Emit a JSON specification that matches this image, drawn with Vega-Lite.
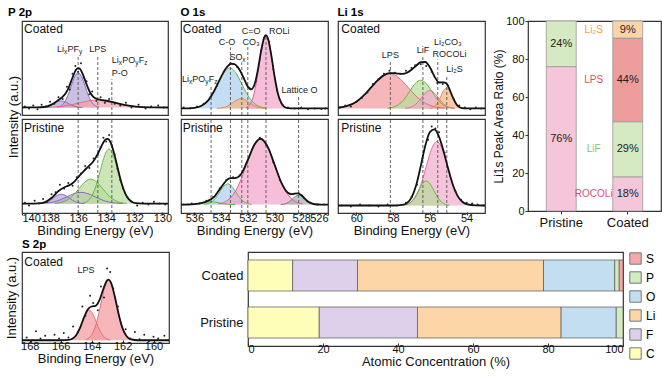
{
"$schema":"https://vega.github.io/schema/vega-lite/v6.json",
"padding":{"left":4,"top":0,"right":0,"bottom":0},
"config":{
 "font":"Liberation Sans",
 "view":{"stroke":"#333","strokeWidth":1.2},
 "axis":{"labelFontSize":11,"titleFontSize":13,"titleFontWeight":"normal","labelColor":"#111","titleColor":"#111","domainColor":"#333","tickColor":"#333","grid":false,"labelOverlap":false},
 "title":{"fontSize":11.5,"fontWeight":"bold","anchor":"start","color":"#000","offset":2},
 "header":{"titleFontSize":13,"titleFontWeight":"normal","titleColor":"#111","titlePadding":-10,"labelPadding":0}
},
"datasets":{
"p2p":[
{"s":"Coated","k":"c","sp":"LixPFy","pk":"A","b":0.08,"x":135.7,"y":0.0808},{"s":"Coated","k":"c","sp":"LixPFy","pk":"A","b":0.08,"x":135.95,"y":0.0831},{"s":"Coated","k":"c","sp":"LixPFy","pk":"A","b":0.08,"x":136.2,"y":0.0895},{"s":"Coated","k":"c","sp":"LixPFy","pk":"A","b":0.08,"x":136.45,"y":0.1027},{"s":"Coated","k":"c","sp":"LixPFy","pk":"A","b":0.08,"x":136.7,"y":0.1225},{"s":"Coated","k":"c","sp":"LixPFy","pk":"A","b":0.08,"x":136.95,"y":0.1418},{"s":"Coated","k":"c","sp":"LixPFy","pk":"A","b":0.08,"x":137.2,"y":0.15},{"s":"Coated","k":"c","sp":"LixPFy","pk":"A","b":0.08,"x":137.45,"y":0.1418},{"s":"Coated","k":"c","sp":"LixPFy","pk":"A","b":0.08,"x":137.7,"y":0.1225},{"s":"Coated","k":"c","sp":"LixPFy","pk":"A","b":0.08,"x":137.95,"y":0.1027},{"s":"Coated","k":"c","sp":"LixPFy","pk":"A","b":0.08,"x":138.2,"y":0.0895},{"s":"Coated","k":"c","sp":"LixPFy","pk":"A","b":0.08,"x":138.45,"y":0.0831},{"s":"Coated","k":"c","sp":"LixPFy","pk":"A","b":0.08,"x":138.7,"y":0.0808},
{"s":"Coated","k":"c","sp":"LixPFy","pk":"B","b":0.08,"x":134.5,"y":0.084},{"s":"Coated","k":"c","sp":"LixPFy","pk":"B","b":0.08,"x":134.75,"y":0.096},{"s":"Coated","k":"c","sp":"LixPFy","pk":"B","b":0.08,"x":135,"y":0.13},{"s":"Coated","k":"c","sp":"LixPFy","pk":"B","b":0.08,"x":135.25,"y":0.2},{"s":"Coated","k":"c","sp":"LixPFy","pk":"B","b":0.08,"x":135.5,"y":0.304},{"s":"Coated","k":"c","sp":"LixPFy","pk":"B","b":0.08,"x":135.75,"y":0.407},{"s":"Coated","k":"c","sp":"LixPFy","pk":"B","b":0.08,"x":136,"y":0.45},{"s":"Coated","k":"c","sp":"LixPFy","pk":"B","b":0.08,"x":136.25,"y":0.407},{"s":"Coated","k":"c","sp":"LixPFy","pk":"B","b":0.08,"x":136.5,"y":0.304},{"s":"Coated","k":"c","sp":"LixPFy","pk":"B","b":0.08,"x":136.75,"y":0.2},{"s":"Coated","k":"c","sp":"LixPFy","pk":"B","b":0.08,"x":137,"y":0.13},{"s":"Coated","k":"c","sp":"LixPFy","pk":"B","b":0.08,"x":137.25,"y":0.096},{"s":"Coated","k":"c","sp":"LixPFy","pk":"B","b":0.08,"x":137.5,"y":0.084},
{"s":"Coated","k":"c","sp":"LPS","pk":"C","b":0.08,"x":130.7,"y":0.081},{"s":"Coated","k":"c","sp":"LPS","pk":"C","b":0.08,"x":131.35,"y":0.0835},{"s":"Coated","k":"c","sp":"LPS","pk":"C","b":0.08,"x":132,"y":0.0908},{"s":"Coated","k":"c","sp":"LPS","pk":"C","b":0.08,"x":132.65,"y":0.106},{"s":"Coated","k":"c","sp":"LPS","pk":"C","b":0.08,"x":133.3,"y":0.1285},{"s":"Coated","k":"c","sp":"LPS","pk":"C","b":0.08,"x":133.95,"y":0.1506},{"s":"Coated","k":"c","sp":"LPS","pk":"C","b":0.08,"x":134.6,"y":0.16},{"s":"Coated","k":"c","sp":"LPS","pk":"C","b":0.08,"x":135.25,"y":0.1506},{"s":"Coated","k":"c","sp":"LPS","pk":"C","b":0.08,"x":135.9,"y":0.1285},{"s":"Coated","k":"c","sp":"LPS","pk":"C","b":0.08,"x":136.55,"y":0.106},{"s":"Coated","k":"c","sp":"LPS","pk":"C","b":0.08,"x":137.2,"y":0.0908},{"s":"Coated","k":"c","sp":"LPS","pk":"C","b":0.08,"x":137.85,"y":0.0835},{"s":"Coated","k":"c","sp":"LPS","pk":"C","b":0.08,"x":138.5,"y":0.081},
{"s":"Pristine","k":"c","sp":"LixPFy","pk":"D","b":0.1,"x":135.55,"y":0.1011},{"s":"Pristine","k":"c","sp":"LixPFy","pk":"D","b":0.1,"x":135.825,"y":0.1044},{"s":"Pristine","k":"c","sp":"LixPFy","pk":"D","b":0.1,"x":136.1,"y":0.1135},{"s":"Pristine","k":"c","sp":"LixPFy","pk":"D","b":0.1,"x":136.375,"y":0.1325},{"s":"Pristine","k":"c","sp":"LixPFy","pk":"D","b":0.1,"x":136.65,"y":0.1607},{"s":"Pristine","k":"c","sp":"LixPFy","pk":"D","b":0.1,"x":136.925,"y":0.1883},{"s":"Pristine","k":"c","sp":"LixPFy","pk":"D","b":0.1,"x":137.2,"y":0.2},{"s":"Pristine","k":"c","sp":"LixPFy","pk":"D","b":0.1,"x":137.475,"y":0.1883},{"s":"Pristine","k":"c","sp":"LixPFy","pk":"D","b":0.1,"x":137.75,"y":0.1607},{"s":"Pristine","k":"c","sp":"LixPFy","pk":"D","b":0.1,"x":138.025,"y":0.1325},{"s":"Pristine","k":"c","sp":"LixPFy","pk":"D","b":0.1,"x":138.3,"y":0.1135},{"s":"Pristine","k":"c","sp":"LixPFy","pk":"D","b":0.1,"x":138.575,"y":0.1044},{"s":"Pristine","k":"c","sp":"LixPFy","pk":"D","b":0.1,"x":138.85,"y":0.1011},
{"s":"Pristine","k":"c","sp":"LixPFy","pk":"E","b":0.1,"x":132.8,"y":0.1013},{"s":"Pristine","k":"c","sp":"LixPFy","pk":"E","b":0.1,"x":133.3,"y":0.1053},{"s":"Pristine","k":"c","sp":"LixPFy","pk":"E","b":0.1,"x":133.8,"y":0.1162},{"s":"Pristine","k":"c","sp":"LixPFy","pk":"E","b":0.1,"x":134.3,"y":0.139},{"s":"Pristine","k":"c","sp":"LixPFy","pk":"E","b":0.1,"x":134.8,"y":0.1728},{"s":"Pristine","k":"c","sp":"LixPFy","pk":"E","b":0.1,"x":135.3,"y":0.2059},{"s":"Pristine","k":"c","sp":"LixPFy","pk":"E","b":0.1,"x":135.8,"y":0.22},{"s":"Pristine","k":"c","sp":"LixPFy","pk":"E","b":0.1,"x":136.3,"y":0.2059},{"s":"Pristine","k":"c","sp":"LixPFy","pk":"E","b":0.1,"x":136.8,"y":0.1728},{"s":"Pristine","k":"c","sp":"LixPFy","pk":"E","b":0.1,"x":137.3,"y":0.139},{"s":"Pristine","k":"c","sp":"LixPFy","pk":"E","b":0.1,"x":137.8,"y":0.1162},{"s":"Pristine","k":"c","sp":"LixPFy","pk":"E","b":0.1,"x":138.3,"y":0.1053},{"s":"Pristine","k":"c","sp":"LixPFy","pk":"E","b":0.1,"x":138.8,"y":0.1013},
{"s":"Pristine","k":"c","sp":"LixPOyFz","pk":"F","b":0.1,"x":132.55,"y":0.1029},{"s":"Pristine","k":"c","sp":"LixPOyFz","pk":"F","b":0.1,"x":132.975,"y":0.1114},{"s":"Pristine","k":"c","sp":"LixPOyFz","pk":"F","b":0.1,"x":133.4,"y":0.1352},{"s":"Pristine","k":"c","sp":"LixPOyFz","pk":"F","b":0.1,"x":133.825,"y":0.1844},{"s":"Pristine","k":"c","sp":"LixPOyFz","pk":"F","b":0.1,"x":134.25,"y":0.2577},{"s":"Pristine","k":"c","sp":"LixPOyFz","pk":"F","b":0.1,"x":134.675,"y":0.3295},{"s":"Pristine","k":"c","sp":"LixPOyFz","pk":"F","b":0.1,"x":135.1,"y":0.36},{"s":"Pristine","k":"c","sp":"LixPOyFz","pk":"F","b":0.1,"x":135.525,"y":0.3295},{"s":"Pristine","k":"c","sp":"LixPOyFz","pk":"F","b":0.1,"x":135.95,"y":0.2577},{"s":"Pristine","k":"c","sp":"LixPOyFz","pk":"F","b":0.1,"x":136.375,"y":0.1844},{"s":"Pristine","k":"c","sp":"LixPOyFz","pk":"F","b":0.1,"x":136.8,"y":0.1352},{"s":"Pristine","k":"c","sp":"LixPOyFz","pk":"F","b":0.1,"x":137.225,"y":0.1114},{"s":"Pristine","k":"c","sp":"LixPOyFz","pk":"F","b":0.1,"x":137.65,"y":0.1029},
{"s":"Pristine","k":"c","sp":"LixPOyFz","pk":"G","b":0.1,"x":131.94,"y":0.1064},{"s":"Pristine","k":"c","sp":"LixPOyFz","pk":"G","b":0.1,"x":132.25,"y":0.1255},{"s":"Pristine","k":"c","sp":"LixPOyFz","pk":"G","b":0.1,"x":132.56,"y":0.1785},{"s":"Pristine","k":"c","sp":"LixPOyFz","pk":"G","b":0.1,"x":132.87,"y":0.2883},{"s":"Pristine","k":"c","sp":"LixPOyFz","pk":"G","b":0.1,"x":133.18,"y":0.4518},{"s":"Pristine","k":"c","sp":"LixPOyFz","pk":"G","b":0.1,"x":133.49,"y":0.6119},{"s":"Pristine","k":"c","sp":"LixPOyFz","pk":"G","b":0.1,"x":133.8,"y":0.68},{"s":"Pristine","k":"c","sp":"LixPOyFz","pk":"G","b":0.1,"x":134.11,"y":0.6119},{"s":"Pristine","k":"c","sp":"LixPOyFz","pk":"G","b":0.1,"x":134.42,"y":0.4518},{"s":"Pristine","k":"c","sp":"LixPOyFz","pk":"G","b":0.1,"x":134.73,"y":0.2883},{"s":"Pristine","k":"c","sp":"LixPOyFz","pk":"G","b":0.1,"x":135.04,"y":0.1785},{"s":"Pristine","k":"c","sp":"LixPOyFz","pk":"G","b":0.1,"x":135.35,"y":0.1255},{"s":"Pristine","k":"c","sp":"LixPOyFz","pk":"G","b":0.1,"x":135.66,"y":0.1064},
{"s":"Coated","k":"e","x":140,"y":0.08},{"s":"Coated","k":"e","x":139.5,"y":0.0802},{"s":"Coated","k":"e","x":138.9,"y":0.0805},{"s":"Coated","k":"e","x":138.4,"y":0.085},{"s":"Coated","k":"e","x":137.9,"y":0.11},{"s":"Coated","k":"e","x":137.65,"y":0.133},{"s":"Coated","k":"e","x":137.4,"y":0.16},{"s":"Coated","k":"e","x":137.15,"y":0.188},{"s":"Coated","k":"e","x":136.9,"y":0.228},{"s":"Coated","k":"e","x":136.65,"y":0.3},{"s":"Coated","k":"e","x":136.4,"y":0.399},{"s":"Coated","k":"e","x":136.15,"y":0.481},{"s":"Coated","k":"e","x":136,"y":0.499},{"s":"Coated","k":"e","x":135.9,"y":0.494},{"s":"Coated","k":"e","x":135.65,"y":0.428},{"s":"Coated","k":"e","x":135.4,"y":0.326},{"s":"Coated","k":"e","x":135.15,"y":0.24},{"s":"Coated","k":"e","x":134.9,"y":0.191},{"s":"Coated","k":"e","x":134.65,"y":0.17},{"s":"Coated","k":"e","x":134.4,"y":0.161},{"s":"Coated","k":"e","x":133.9,"y":0.149},{"s":"Coated","k":"e","x":133.4,"y":0.132},{"s":"Coated","k":"e","x":132.9,"y":0.114},{"s":"Coated","k":"e","x":132.4,"y":0.099},{"s":"Coated","k":"e","x":131.9,"y":0.089},{"s":"Coated","k":"e","x":130.9,"y":0.0814},{"s":"Coated","k":"e","x":129.6,"y":0.08},
{"s":"Pristine","k":"e","x":140,"y":0.1},{"s":"Pristine","k":"e","x":139.4,"y":0.1},{"s":"Pristine","k":"e","x":138.9,"y":0.102},{"s":"Pristine","k":"e","x":138.4,"y":0.1135},{"s":"Pristine","k":"e","x":137.9,"y":0.159},{"s":"Pristine","k":"e","x":137.4,"y":0.234},{"s":"Pristine","k":"e","x":136.9,"y":0.279},{"s":"Pristine","k":"e","x":136.65,"y":0.294},{"s":"Pristine","k":"e","x":136.4,"y":0.316},{"s":"Pristine","k":"e","x":135.9,"y":0.398},{"s":"Pristine","k":"e","x":135.65,"y":0.438},{"s":"Pristine","k":"e","x":135.4,"y":0.476},{"s":"Pristine","k":"e","x":135.15,"y":0.511},{"s":"Pristine","k":"e","x":134.9,"y":0.553},{"s":"Pristine","k":"e","x":134.65,"y":0.615},{"s":"Pristine","k":"e","x":134.4,"y":0.693},{"s":"Pristine","k":"e","x":134.15,"y":0.764},{"s":"Pristine","k":"e","x":134,"y":0.787},{"s":"Pristine","k":"e","x":133.9,"y":0.788},{"s":"Pristine","k":"e","x":133.65,"y":0.736},{"s":"Pristine","k":"e","x":133.4,"y":0.613},{"s":"Pristine","k":"e","x":133.15,"y":0.457},{"s":"Pristine","k":"e","x":132.9,"y":0.313},{"s":"Pristine","k":"e","x":132.65,"y":0.208},{"s":"Pristine","k":"e","x":132.4,"y":0.147},{"s":"Pristine","k":"e","x":132.15,"y":0.117},{"s":"Pristine","k":"e","x":131.9,"y":0.105},{"s":"Pristine","k":"e","x":131.4,"y":0.1},{"s":"Pristine","k":"e","x":129.6,"y":0.1},
{"s":"Coated","k":"p","x":139.8,"y":0.09},{"s":"Coated","k":"p","x":139.5,"y":0.07},{"s":"Coated","k":"p","x":139.2,"y":0.1},{"s":"Coated","k":"p","x":138.9,"y":0.06},{"s":"Coated","k":"p","x":138.6,"y":0.11},{"s":"Coated","k":"p","x":138.3,"y":0.09},{"s":"Coated","k":"p","x":138,"y":0.14},{"s":"Coated","k":"p","x":137.7,"y":0.12},{"s":"Coated","k":"p","x":137.4,"y":0.19},{"s":"Coated","k":"p","x":137.1,"y":0.17},{"s":"Coated","k":"p","x":136.8,"y":0.3},{"s":"Coated","k":"p","x":136.6,"y":0.27},{"s":"Coated","k":"p","x":136.4,"y":0.44},{"s":"Coated","k":"p","x":136.2,"y":0.52},{"s":"Coated","k":"p","x":136,"y":0.46},{"s":"Coated","k":"p","x":135.8,"y":0.55},{"s":"Coated","k":"p","x":135.6,"y":0.4},{"s":"Coated","k":"p","x":135.4,"y":0.36},{"s":"Coated","k":"p","x":135.2,"y":0.22},{"s":"Coated","k":"p","x":135,"y":0.25},{"s":"Coated","k":"p","x":134.7,"y":0.15},{"s":"Coated","k":"p","x":134.4,"y":0.19},{"s":"Coated","k":"p","x":134.1,"y":0.13},{"s":"Coated","k":"p","x":133.8,"y":0.17},{"s":"Coated","k":"p","x":133.4,"y":0.12},{"s":"Coated","k":"p","x":133,"y":0.1},{"s":"Coated","k":"p","x":132.6,"y":0.13},{"s":"Coated","k":"p","x":132.2,"y":0.08},{"s":"Coated","k":"p","x":131.7,"y":0.11},{"s":"Coated","k":"p","x":131.2,"y":0.07},{"s":"Coated","k":"p","x":130.8,"y":0.09},{"s":"Coated","k":"p","x":130.3,"y":0.1},{"s":"Coated","k":"p","x":129.9,"y":0.08},
{"s":"Pristine","k":"p","x":139.8,"y":0.11},{"s":"Pristine","k":"p","x":139.5,"y":0.08},{"s":"Pristine","k":"p","x":139.1,"y":0.13},{"s":"Pristine","k":"p","x":138.8,"y":0.1},{"s":"Pristine","k":"p","x":138.5,"y":0.15},{"s":"Pristine","k":"p","x":138.2,"y":0.12},{"s":"Pristine","k":"p","x":137.9,"y":0.2},{"s":"Pristine","k":"p","x":137.6,"y":0.22},{"s":"Pristine","k":"p","x":137.3,"y":0.3},{"s":"Pristine","k":"p","x":137,"y":0.26},{"s":"Pristine","k":"p","x":136.7,"y":0.32},{"s":"Pristine","k":"p","x":136.4,"y":0.29},{"s":"Pristine","k":"p","x":136.1,"y":0.38},{"s":"Pristine","k":"p","x":135.8,"y":0.42},{"s":"Pristine","k":"p","x":135.5,"y":0.5},{"s":"Pristine","k":"p","x":135.2,"y":0.48},{"s":"Pristine","k":"p","x":134.9,"y":0.58},{"s":"Pristine","k":"p","x":134.6,"y":0.62},{"s":"Pristine","k":"p","x":134.4,"y":0.7},{"s":"Pristine","k":"p","x":134.2,"y":0.8},{"s":"Pristine","k":"p","x":134,"y":0.76},{"s":"Pristine","k":"p","x":133.8,"y":0.83},{"s":"Pristine","k":"p","x":133.6,"y":0.72},{"s":"Pristine","k":"p","x":133.4,"y":0.62},{"s":"Pristine","k":"p","x":133.2,"y":0.47},{"s":"Pristine","k":"p","x":133,"y":0.35},{"s":"Pristine","k":"p","x":132.8,"y":0.26},{"s":"Pristine","k":"p","x":132.5,"y":0.17},{"s":"Pristine","k":"p","x":132.2,"y":0.12},{"s":"Pristine","k":"p","x":131.8,"y":0.08},{"s":"Pristine","k":"p","x":131.4,"y":0.11},{"s":"Pristine","k":"p","x":131,"y":0.09},{"s":"Pristine","k":"p","x":130.6,"y":0.12},{"s":"Pristine","k":"p","x":130.2,"y":0.1},{"s":"Pristine","k":"p","x":129.8,"y":0.09},
{"s":"Coated","k":"r","x":136,"y":0,"y2":0.63},{"s":"Coated","k":"r","x":134.6,"y":0,"y2":0.63},{"s":"Coated","k":"r","x":133.6,"y":0,"y2":0.38},
{"s":"Pristine","k":"r","x":136,"y":0,"y2":1},{"s":"Pristine","k":"r","x":134.6,"y":0,"y2":1},{"s":"Pristine","k":"r","x":133.6,"y":0,"y2":1},
{"s":"Coated","k":"l","t":"LPS","x":134.6,"y":0.7},
{"s":"Coated","k":"g","t":"Li","x":137.51,"y":0.7},{"s":"Coated","k":"g","t":"PF","x":136.76,"y":0.7},{"s":"Coated","k":"g","t":"Li","x":133.61,"y":0.58},{"s":"Coated","k":"g","t":"PO","x":132.86,"y":0.58},{"s":"Coated","k":"g","t":"F","x":131.69,"y":0.58},{"s":"Coated","k":"g","t":"P-O","x":133.61,"y":0.45},
{"s":"Coated","k":"u","t":"x","x":137.01,"y":0.7},{"s":"Coated","k":"u","t":"y","x":135.94,"y":0.7},{"s":"Coated","k":"u","t":"x","x":133.11,"y":0.58},{"s":"Coated","k":"u","t":"y","x":131.94,"y":0.58},{"s":"Coated","k":"u","t":"z","x":131.3,"y":0.58},
{"s":"Coated","k":"n","t":"Coated","x":139.85,"y":0.92},{"s":"Pristine","k":"n","t":"Pristine","x":139.85,"y":0.9}
],
"o1s":[
{"s":"Coated","k":"c","sp":"C-O","pk":"a","b":0.07,"x":530.65,"y":0.0748},{"s":"Coated","k":"c","sp":"C-O","pk":"a","b":0.07,"x":531.1,"y":0.0889},{"s":"Coated","k":"c","sp":"C-O","pk":"a","b":0.07,"x":531.55,"y":0.1282},{"s":"Coated","k":"c","sp":"C-O","pk":"a","b":0.07,"x":532,"y":0.2096},{"s":"Coated","k":"c","sp":"C-O","pk":"a","b":0.07,"x":532.45,"y":0.3308},{"s":"Coated","k":"c","sp":"C-O","pk":"a","b":0.07,"x":532.9,"y":0.4495},{"s":"Coated","k":"c","sp":"C-O","pk":"a","b":0.07,"x":533.35,"y":0.5},{"s":"Coated","k":"c","sp":"C-O","pk":"a","b":0.07,"x":533.8,"y":0.4495},{"s":"Coated","k":"c","sp":"C-O","pk":"a","b":0.07,"x":534.25,"y":0.3308},{"s":"Coated","k":"c","sp":"C-O","pk":"a","b":0.07,"x":534.7,"y":0.2096},{"s":"Coated","k":"c","sp":"C-O","pk":"a","b":0.07,"x":535.15,"y":0.1282},{"s":"Coated","k":"c","sp":"C-O","pk":"a","b":0.07,"x":535.6,"y":0.0889},{"s":"Coated","k":"c","sp":"C-O","pk":"a","b":0.07,"x":536.05,"y":0.0748},
{"s":"Coated","k":"c","sp":"SOx","pk":"b","b":0.07,"x":530.7,"y":0.0712},{"s":"Coated","k":"c","sp":"SOx","pk":"b","b":0.07,"x":531,"y":0.0746},{"s":"Coated","k":"c","sp":"SOx","pk":"b","b":0.07,"x":531.3,"y":0.0841},{"s":"Coated","k":"c","sp":"SOx","pk":"b","b":0.07,"x":531.6,"y":0.1038},{"s":"Coated","k":"c","sp":"SOx","pk":"b","b":0.07,"x":531.9,"y":0.1331},{"s":"Coated","k":"c","sp":"SOx","pk":"b","b":0.07,"x":532.2,"y":0.1618},{"s":"Coated","k":"c","sp":"SOx","pk":"b","b":0.07,"x":532.5,"y":0.174},{"s":"Coated","k":"c","sp":"SOx","pk":"b","b":0.07,"x":532.8,"y":0.1618},{"s":"Coated","k":"c","sp":"SOx","pk":"b","b":0.07,"x":533.1,"y":0.1331},{"s":"Coated","k":"c","sp":"SOx","pk":"b","b":0.07,"x":533.4,"y":0.1038},{"s":"Coated","k":"c","sp":"SOx","pk":"b","b":0.07,"x":533.7,"y":0.0841},{"s":"Coated","k":"c","sp":"SOx","pk":"b","b":0.07,"x":534,"y":0.0746},{"s":"Coated","k":"c","sp":"SOx","pk":"b","b":0.07,"x":534.3,"y":0.0712},
{"s":"Coated","k":"c","sp":"ROLi","pk":"c","b":0.07,"x":529.14,"y":0.0786},{"s":"Coated","k":"c","sp":"ROLi","pk":"c","b":0.07,"x":529.39,"y":0.104},{"s":"Coated","k":"c","sp":"ROLi","pk":"c","b":0.07,"x":529.64,"y":0.1749},{"s":"Coated","k":"c","sp":"ROLi","pk":"c","b":0.07,"x":529.89,"y":0.3216},{"s":"Coated","k":"c","sp":"ROLi","pk":"c","b":0.07,"x":530.14,"y":0.54},{"s":"Coated","k":"c","sp":"ROLi","pk":"c","b":0.07,"x":530.39,"y":0.7539},{"s":"Coated","k":"c","sp":"ROLi","pk":"c","b":0.07,"x":530.64,"y":0.845},{"s":"Coated","k":"c","sp":"ROLi","pk":"c","b":0.07,"x":530.89,"y":0.7539},{"s":"Coated","k":"c","sp":"ROLi","pk":"c","b":0.07,"x":531.14,"y":0.54},{"s":"Coated","k":"c","sp":"ROLi","pk":"c","b":0.07,"x":531.39,"y":0.3216},{"s":"Coated","k":"c","sp":"ROLi","pk":"c","b":0.07,"x":531.64,"y":0.1749},{"s":"Coated","k":"c","sp":"ROLi","pk":"c","b":0.07,"x":531.89,"y":0.104},{"s":"Coated","k":"c","sp":"ROLi","pk":"c","b":0.07,"x":532.14,"y":0.0786},
{"s":"Pristine","k":"c","sp":"LixPOyFz","pk":"d","b":0.09,"x":532.95,"y":0.0903},{"s":"Pristine","k":"c","sp":"LixPOyFz","pk":"d","b":0.09,"x":533.25,"y":0.0913},{"s":"Pristine","k":"c","sp":"LixPOyFz","pk":"d","b":0.09,"x":533.55,"y":0.0941},{"s":"Pristine","k":"c","sp":"LixPOyFz","pk":"d","b":0.09,"x":533.85,"y":0.0997},{"s":"Pristine","k":"c","sp":"LixPOyFz","pk":"d","b":0.09,"x":534.15,"y":0.1082},{"s":"Pristine","k":"c","sp":"LixPOyFz","pk":"d","b":0.09,"x":534.45,"y":0.1165},{"s":"Pristine","k":"c","sp":"LixPOyFz","pk":"d","b":0.09,"x":534.75,"y":0.12},{"s":"Pristine","k":"c","sp":"LixPOyFz","pk":"d","b":0.09,"x":535.05,"y":0.1165},{"s":"Pristine","k":"c","sp":"LixPOyFz","pk":"d","b":0.09,"x":535.35,"y":0.1082},{"s":"Pristine","k":"c","sp":"LixPOyFz","pk":"d","b":0.09,"x":535.65,"y":0.0997},{"s":"Pristine","k":"c","sp":"LixPOyFz","pk":"d","b":0.09,"x":535.95,"y":0.0941},{"s":"Pristine","k":"c","sp":"LixPOyFz","pk":"d","b":0.09,"x":536.25,"y":0.0913},{"s":"Pristine","k":"c","sp":"LixPOyFz","pk":"d","b":0.09,"x":536.55,"y":0.0903},
{"s":"Pristine","k":"c","sp":"C-O","pk":"e","b":0.09,"x":531.7,"y":0.0924},{"s":"Pristine","k":"c","sp":"C-O","pk":"e","b":0.09,"x":532,"y":0.0997},{"s":"Pristine","k":"c","sp":"C-O","pk":"e","b":0.09,"x":532.3,"y":0.1198},{"s":"Pristine","k":"c","sp":"C-O","pk":"e","b":0.09,"x":532.6,"y":0.1614},{"s":"Pristine","k":"c","sp":"C-O","pk":"e","b":0.09,"x":532.9,"y":0.2234},{"s":"Pristine","k":"c","sp":"C-O","pk":"e","b":0.09,"x":533.2,"y":0.2842},{"s":"Pristine","k":"c","sp":"C-O","pk":"e","b":0.09,"x":533.5,"y":0.31},{"s":"Pristine","k":"c","sp":"C-O","pk":"e","b":0.09,"x":533.8,"y":0.2842},{"s":"Pristine","k":"c","sp":"C-O","pk":"e","b":0.09,"x":534.1,"y":0.2234},{"s":"Pristine","k":"c","sp":"C-O","pk":"e","b":0.09,"x":534.4,"y":0.1614},{"s":"Pristine","k":"c","sp":"C-O","pk":"e","b":0.09,"x":534.7,"y":0.1198},{"s":"Pristine","k":"c","sp":"C-O","pk":"e","b":0.09,"x":535,"y":0.0997},{"s":"Pristine","k":"c","sp":"C-O","pk":"e","b":0.09,"x":535.3,"y":0.0924},
{"s":"Pristine","k":"c","sp":"ROLi","pk":"f","b":0.09,"x":527.9,"y":0.0978},{"s":"Pristine","k":"c","sp":"ROLi","pk":"f","b":0.09,"x":528.425,"y":0.1207},{"s":"Pristine","k":"c","sp":"ROLi","pk":"f","b":0.09,"x":528.95,"y":0.1847},{"s":"Pristine","k":"c","sp":"ROLi","pk":"f","b":0.09,"x":529.475,"y":0.3173},{"s":"Pristine","k":"c","sp":"ROLi","pk":"f","b":0.09,"x":530,"y":0.5146},{"s":"Pristine","k":"c","sp":"ROLi","pk":"f","b":0.09,"x":530.525,"y":0.7078},{"s":"Pristine","k":"c","sp":"ROLi","pk":"f","b":0.09,"x":531.05,"y":0.79},{"s":"Pristine","k":"c","sp":"ROLi","pk":"f","b":0.09,"x":531.575,"y":0.7078},{"s":"Pristine","k":"c","sp":"ROLi","pk":"f","b":0.09,"x":532.1,"y":0.5146},{"s":"Pristine","k":"c","sp":"ROLi","pk":"f","b":0.09,"x":532.625,"y":0.3173},{"s":"Pristine","k":"c","sp":"ROLi","pk":"f","b":0.09,"x":533.15,"y":0.1847},{"s":"Pristine","k":"c","sp":"ROLi","pk":"f","b":0.09,"x":533.675,"y":0.1207},{"s":"Pristine","k":"c","sp":"ROLi","pk":"f","b":0.09,"x":534.2,"y":0.0978},
{"s":"Pristine","k":"c","sp":"Lattice O","pk":"g","b":0.09,"x":526.85,"y":0.0911},{"s":"Pristine","k":"c","sp":"Lattice O","pk":"g","b":0.09,"x":527.075,"y":0.0944},{"s":"Pristine","k":"c","sp":"Lattice O","pk":"g","b":0.09,"x":527.3,"y":0.1035},{"s":"Pristine","k":"c","sp":"Lattice O","pk":"g","b":0.09,"x":527.525,"y":0.1225},{"s":"Pristine","k":"c","sp":"Lattice O","pk":"g","b":0.09,"x":527.75,"y":0.1507},{"s":"Pristine","k":"c","sp":"Lattice O","pk":"g","b":0.09,"x":527.975,"y":0.1783},{"s":"Pristine","k":"c","sp":"Lattice O","pk":"g","b":0.09,"x":528.2,"y":0.19},{"s":"Pristine","k":"c","sp":"Lattice O","pk":"g","b":0.09,"x":528.425,"y":0.1783},{"s":"Pristine","k":"c","sp":"Lattice O","pk":"g","b":0.09,"x":528.65,"y":0.1507},{"s":"Pristine","k":"c","sp":"Lattice O","pk":"g","b":0.09,"x":528.875,"y":0.1225},{"s":"Pristine","k":"c","sp":"Lattice O","pk":"g","b":0.09,"x":529.1,"y":0.1035},{"s":"Pristine","k":"c","sp":"Lattice O","pk":"g","b":0.09,"x":529.325,"y":0.0944},{"s":"Pristine","k":"c","sp":"Lattice O","pk":"g","b":0.09,"x":529.55,"y":0.0911},
{"s":"Coated","k":"e","x":537,"y":0.07},{"s":"Coated","k":"e","x":536.5,"y":0.071},{"s":"Coated","k":"e","x":536,"y":0.076},{"s":"Coated","k":"e","x":535.5,"y":0.095},{"s":"Coated","k":"e","x":535,"y":0.15},{"s":"Coated","k":"e","x":534.5,"y":0.261},{"s":"Coated","k":"e","x":534,"y":0.406},{"s":"Coated","k":"e","x":533.75,"y":0.472},{"s":"Coated","k":"e","x":533.5,"y":0.52},{"s":"Coated","k":"e","x":533.25,"y":0.545},{"s":"Coated","k":"e","x":533,"y":0.542},{"s":"Coated","k":"e","x":532.75,"y":0.509},{"s":"Coated","k":"e","x":532.5,"y":0.45},{"s":"Coated","k":"e","x":532.25,"y":0.373},{"s":"Coated","k":"e","x":532,"y":0.302},{"s":"Coated","k":"e","x":531.75,"y":0.272},{"s":"Coated","k":"e","x":531.5,"y":0.324},{"s":"Coated","k":"e","x":531.25,"y":0.478},{"s":"Coated","k":"e","x":531,"y":0.687},{"s":"Coated","k":"e","x":530.75,"y":0.834},{"s":"Coated","k":"e","x":530.64,"y":0.849},{"s":"Coated","k":"e","x":530.5,"y":0.818},{"s":"Coated","k":"e","x":530.25,"y":0.643},{"s":"Coated","k":"e","x":530,"y":0.412},{"s":"Coated","k":"e","x":529.75,"y":0.229},{"s":"Coated","k":"e","x":529.5,"y":0.128},{"s":"Coated","k":"e","x":529.25,"y":0.086},{"s":"Coated","k":"e","x":529,"y":0.074},{"s":"Coated","k":"e","x":528.5,"y":0.07},{"s":"Coated","k":"e","x":526,"y":0.07},
{"s":"Pristine","k":"e","x":537,"y":0.09},{"s":"Pristine","k":"e","x":536.5,"y":0.0904},{"s":"Pristine","k":"e","x":536,"y":0.094},{"s":"Pristine","k":"e","x":535.5,"y":0.105},{"s":"Pristine","k":"e","x":535,"y":0.128},{"s":"Pristine","k":"e","x":534.5,"y":0.175},{"s":"Pristine","k":"e","x":534,"y":0.273},{"s":"Pristine","k":"e","x":533.5,"y":0.36},{"s":"Pristine","k":"e","x":533.25,"y":0.371},{"s":"Pristine","k":"e","x":533,"y":0.371},{"s":"Pristine","k":"e","x":532.75,"y":0.38},{"s":"Pristine","k":"e","x":532.5,"y":0.414},{"s":"Pristine","k":"e","x":532,"y":0.5645},{"s":"Pristine","k":"e","x":531.5,"y":0.729},{"s":"Pristine","k":"e","x":531.05,"y":0.79},{"s":"Pristine","k":"e","x":530.5,"y":0.7},{"s":"Pristine","k":"e","x":530,"y":0.515},{"s":"Pristine","k":"e","x":529.5,"y":0.327},{"s":"Pristine","k":"e","x":529,"y":0.215},{"s":"Pristine","k":"e","x":528.75,"y":0.201},{"s":"Pristine","k":"e","x":528.5,"y":0.207},{"s":"Pristine","k":"e","x":528.25,"y":0.209},{"s":"Pristine","k":"e","x":528,"y":0.191},{"s":"Pristine","k":"e","x":527.75,"y":0.156},{"s":"Pristine","k":"e","x":527.5,"y":0.122},{"s":"Pristine","k":"e","x":527,"y":0.093},{"s":"Pristine","k":"e","x":526.5,"y":0.09},{"s":"Pristine","k":"e","x":526,"y":0.09},
{"s":"Coated","k":"p","x":536.8,"y":0.08},{"s":"Coated","k":"p","x":536.3,"y":0.07},{"s":"Coated","k":"p","x":535.8,"y":0.09},{"s":"Coated","k":"p","x":535.3,"y":0.12},{"s":"Coated","k":"p","x":534.8,"y":0.19},{"s":"Coated","k":"p","x":534.3,"y":0.31},{"s":"Coated","k":"p","x":533.8,"y":0.46},{"s":"Coated","k":"p","x":533.3,"y":0.55},{"s":"Coated","k":"p","x":532.8,"y":0.51},{"s":"Coated","k":"p","x":532.3,"y":0.39},{"s":"Coated","k":"p","x":531.8,"y":0.28},{"s":"Coated","k":"p","x":531.4,"y":0.36},{"s":"Coated","k":"p","x":531,"y":0.69},{"s":"Coated","k":"p","x":530.7,"y":0.84},{"s":"Coated","k":"p","x":530.4,"y":0.78},{"s":"Coated","k":"p","x":530.1,"y":0.49},{"s":"Coated","k":"p","x":529.8,"y":0.26},{"s":"Coated","k":"p","x":529.4,"y":0.11},{"s":"Coated","k":"p","x":529,"y":0.08},{"s":"Coated","k":"p","x":528.5,"y":0.07},{"s":"Coated","k":"p","x":528,"y":0.08},{"s":"Coated","k":"p","x":527.5,"y":0.06},{"s":"Coated","k":"p","x":527,"y":0.07},{"s":"Coated","k":"p","x":526.5,"y":0.065},{"s":"Coated","k":"p","x":526.2,"y":0.07},
{"s":"Pristine","k":"p","x":536.8,"y":0.09},{"s":"Pristine","k":"p","x":536.2,"y":0.1},{"s":"Pristine","k":"p","x":535.6,"y":0.1},{"s":"Pristine","k":"p","x":535.1,"y":0.13},{"s":"Pristine","k":"p","x":534.6,"y":0.17},{"s":"Pristine","k":"p","x":534.1,"y":0.26},{"s":"Pristine","k":"p","x":533.6,"y":0.35},{"s":"Pristine","k":"p","x":533.1,"y":0.38},{"s":"Pristine","k":"p","x":532.6,"y":0.4},{"s":"Pristine","k":"p","x":532.1,"y":0.53},{"s":"Pristine","k":"p","x":531.6,"y":0.7},{"s":"Pristine","k":"p","x":531.1,"y":0.8},{"s":"Pristine","k":"p","x":530.6,"y":0.72},{"s":"Pristine","k":"p","x":530.1,"y":0.54},{"s":"Pristine","k":"p","x":529.6,"y":0.35},{"s":"Pristine","k":"p","x":529.1,"y":0.23},{"s":"Pristine","k":"p","x":528.6,"y":0.2},{"s":"Pristine","k":"p","x":528.2,"y":0.21},{"s":"Pristine","k":"p","x":527.8,"y":0.16},{"s":"Pristine","k":"p","x":527.3,"y":0.11},{"s":"Pristine","k":"p","x":526.8,"y":0.09},{"s":"Pristine","k":"p","x":526.3,"y":0.09},
{"s":"Coated","k":"r","x":534.75,"y":0,"y2":0.32},{"s":"Coated","k":"r","x":533.3,"y":0,"y2":0.72},{"s":"Coated","k":"r","x":532.45,"y":0,"y2":0.56},{"s":"Coated","k":"r","x":532,"y":0,"y2":0.74},{"s":"Coated","k":"r","x":530.64,"y":0,"y2":0.85},{"s":"Coated","k":"r","x":528.2,"y":0,"y2":0.2},
{"s":"Pristine","k":"r","x":534.75,"y":0,"y2":1},{"s":"Pristine","k":"r","x":533.3,"y":0,"y2":1},{"s":"Pristine","k":"r","x":532.45,"y":0,"y2":1},{"s":"Pristine","k":"r","x":532,"y":0,"y2":1},{"s":"Pristine","k":"r","x":530.64,"y":0,"y2":1},{"s":"Pristine","k":"r","x":528.2,"y":0,"y2":1},
{"s":"Coated","k":"l","t":"C-O","x":533.56,"y":0.78},{"s":"Coated","k":"l","t":"C=O","x":531.76,"y":0.89},{"s":"Coated","k":"l","t":"CO₃","x":531.76,"y":0.78},{"s":"Coated","k":"l","t":"ROLi","x":529.64,"y":0.89},{"s":"Coated","k":"l","t":"Lattice O","x":528.14,"y":0.265},
{"s":"Coated","k":"g","t":"SO","x":533.38,"y":0.62},{"s":"Coated","k":"g","t":"Li","x":536.93,"y":0.38},{"s":"Coated","k":"g","t":"PO","x":536.15,"y":0.38},{"s":"Coated","k":"g","t":"F","x":534.92,"y":0.38},
{"s":"Coated","k":"u","t":"x","x":532.41,"y":0.62},{"s":"Coated","k":"u","t":"x","x":536.41,"y":0.38},{"s":"Coated","k":"u","t":"y","x":535.18,"y":0.38},{"s":"Coated","k":"u","t":"z","x":534.51,"y":0.38},
{"s":"Coated","k":"n","t":"Coated","x":536.87,"y":0.92},{"s":"Pristine","k":"n","t":"Pristine","x":536.87,"y":0.9}
],
"li1s":[
{"s":"Coated","k":"c","sp":"LPS","pk":"a","b":0.07,"x":55.19,"y":0.0741},{"s":"Coated","k":"c","sp":"LPS","pk":"a","b":0.07,"x":55.69,"y":0.0862},{"s":"Coated","k":"c","sp":"LPS","pk":"a","b":0.07,"x":56.19,"y":0.12},{"s":"Coated","k":"c","sp":"LPS","pk":"a","b":0.07,"x":56.69,"y":0.1901},{"s":"Coated","k":"c","sp":"LPS","pk":"a","b":0.07,"x":57.19,"y":0.2944},{"s":"Coated","k":"c","sp":"LPS","pk":"a","b":0.07,"x":57.69,"y":0.3965},{"s":"Coated","k":"c","sp":"LPS","pk":"a","b":0.07,"x":58.19,"y":0.44},{"s":"Coated","k":"c","sp":"LPS","pk":"a","b":0.07,"x":58.69,"y":0.3965},{"s":"Coated","k":"c","sp":"LPS","pk":"a","b":0.07,"x":59.19,"y":0.2944},{"s":"Coated","k":"c","sp":"LPS","pk":"a","b":0.07,"x":59.69,"y":0.1901},{"s":"Coated","k":"c","sp":"LPS","pk":"a","b":0.07,"x":60.19,"y":0.12},{"s":"Coated","k":"c","sp":"LPS","pk":"a","b":0.07,"x":60.69,"y":0.0862},{"s":"Coated","k":"c","sp":"LPS","pk":"a","b":0.07,"x":61.19,"y":0.0741},
{"s":"Coated","k":"c","sp":"LiF","pk":"b","b":0.07,"x":54.7,"y":0.0733},{"s":"Coated","k":"c","sp":"LiF","pk":"b","b":0.07,"x":55,"y":0.0832},{"s":"Coated","k":"c","sp":"LiF","pk":"b","b":0.07,"x":55.3,"y":0.1106},{"s":"Coated","k":"c","sp":"LiF","pk":"b","b":0.07,"x":55.6,"y":0.1674},{"s":"Coated","k":"c","sp":"LiF","pk":"b","b":0.07,"x":55.9,"y":0.252},{"s":"Coated","k":"c","sp":"LiF","pk":"b","b":0.07,"x":56.2,"y":0.3348},{"s":"Coated","k":"c","sp":"LiF","pk":"b","b":0.07,"x":56.5,"y":0.37},{"s":"Coated","k":"c","sp":"LiF","pk":"b","b":0.07,"x":56.8,"y":0.3348},{"s":"Coated","k":"c","sp":"LiF","pk":"b","b":0.07,"x":57.1,"y":0.252},{"s":"Coated","k":"c","sp":"LiF","pk":"b","b":0.07,"x":57.4,"y":0.1674},{"s":"Coated","k":"c","sp":"LiF","pk":"b","b":0.07,"x":57.7,"y":0.1106},{"s":"Coated","k":"c","sp":"LiF","pk":"b","b":0.07,"x":58,"y":0.0832},{"s":"Coated","k":"c","sp":"LiF","pk":"b","b":0.07,"x":58.3,"y":0.0733},
{"s":"Coated","k":"c","sp":"ROCOLi","pk":"c","b":0.07,"x":54.65,"y":0.0721},{"s":"Coated","k":"c","sp":"ROCOLi","pk":"c","b":0.07,"x":54.875,"y":0.0783},{"s":"Coated","k":"c","sp":"ROCOLi","pk":"c","b":0.07,"x":55.1,"y":0.0957},{"s":"Coated","k":"c","sp":"ROCOLi","pk":"c","b":0.07,"x":55.325,"y":0.1317},{"s":"Coated","k":"c","sp":"ROCOLi","pk":"c","b":0.07,"x":55.55,"y":0.1852},{"s":"Coated","k":"c","sp":"ROCOLi","pk":"c","b":0.07,"x":55.775,"y":0.2377},{"s":"Coated","k":"c","sp":"ROCOLi","pk":"c","b":0.07,"x":56,"y":0.26},{"s":"Coated","k":"c","sp":"ROCOLi","pk":"c","b":0.07,"x":56.225,"y":0.2377},{"s":"Coated","k":"c","sp":"ROCOLi","pk":"c","b":0.07,"x":56.45,"y":0.1852},{"s":"Coated","k":"c","sp":"ROCOLi","pk":"c","b":0.07,"x":56.675,"y":0.1317},{"s":"Coated","k":"c","sp":"ROCOLi","pk":"c","b":0.07,"x":56.9,"y":0.0957},{"s":"Coated","k":"c","sp":"ROCOLi","pk":"c","b":0.07,"x":57.125,"y":0.0783},{"s":"Coated","k":"c","sp":"ROCOLi","pk":"c","b":0.07,"x":57.35,"y":0.0721},
{"s":"Coated","k":"c","sp":"Li2S","pk":"d","b":0.07,"x":54.2,"y":0.0724},{"s":"Coated","k":"c","sp":"Li2S","pk":"d","b":0.07,"x":54.35,"y":0.0794},{"s":"Coated","k":"c","sp":"Li2S","pk":"d","b":0.07,"x":54.5,"y":0.0991},{"s":"Coated","k":"c","sp":"Li2S","pk":"d","b":0.07,"x":54.65,"y":0.1398},{"s":"Coated","k":"c","sp":"Li2S","pk":"d","b":0.07,"x":54.8,"y":0.2004},{"s":"Coated","k":"c","sp":"Li2S","pk":"d","b":0.07,"x":54.95,"y":0.2597},{"s":"Coated","k":"c","sp":"Li2S","pk":"d","b":0.07,"x":55.1,"y":0.285},{"s":"Coated","k":"c","sp":"Li2S","pk":"d","b":0.07,"x":55.25,"y":0.2597},{"s":"Coated","k":"c","sp":"Li2S","pk":"d","b":0.07,"x":55.4,"y":0.2004},{"s":"Coated","k":"c","sp":"Li2S","pk":"d","b":0.07,"x":55.55,"y":0.1398},{"s":"Coated","k":"c","sp":"Li2S","pk":"d","b":0.07,"x":55.7,"y":0.0991},{"s":"Coated","k":"c","sp":"Li2S","pk":"d","b":0.07,"x":55.85,"y":0.0794},{"s":"Coated","k":"c","sp":"Li2S","pk":"d","b":0.07,"x":56,"y":0.0724},
{"s":"Pristine","k":"c","sp":"ROCOLi","pk":"e","b":0.08,"x":53.88,"y":0.0875},{"s":"Pristine","k":"c","sp":"ROCOLi","pk":"e","b":0.08,"x":54.17,"y":0.1099},{"s":"Pristine","k":"c","sp":"ROCOLi","pk":"e","b":0.08,"x":54.46,"y":0.172},{"s":"Pristine","k":"c","sp":"ROCOLi","pk":"e","b":0.08,"x":54.75,"y":0.3008},{"s":"Pristine","k":"c","sp":"ROCOLi","pk":"e","b":0.08,"x":55.04,"y":0.4924},{"s":"Pristine","k":"c","sp":"ROCOLi","pk":"e","b":0.08,"x":55.33,"y":0.6801},{"s":"Pristine","k":"c","sp":"ROCOLi","pk":"e","b":0.08,"x":55.62,"y":0.76},{"s":"Pristine","k":"c","sp":"ROCOLi","pk":"e","b":0.08,"x":55.91,"y":0.6801},{"s":"Pristine","k":"c","sp":"ROCOLi","pk":"e","b":0.08,"x":56.2,"y":0.4924},{"s":"Pristine","k":"c","sp":"ROCOLi","pk":"e","b":0.08,"x":56.49,"y":0.3008},{"s":"Pristine","k":"c","sp":"ROCOLi","pk":"e","b":0.08,"x":56.78,"y":0.172},{"s":"Pristine","k":"c","sp":"ROCOLi","pk":"e","b":0.08,"x":57.07,"y":0.1099},{"s":"Pristine","k":"c","sp":"ROCOLi","pk":"e","b":0.08,"x":57.36,"y":0.0875},
{"s":"Pristine","k":"c","sp":"LiF","pk":"f","b":0.08,"x":54.94,"y":0.0829},{"s":"Pristine","k":"c","sp":"LiF","pk":"f","b":0.08,"x":55.15,"y":0.0914},{"s":"Pristine","k":"c","sp":"LiF","pk":"f","b":0.08,"x":55.36,"y":0.1152},{"s":"Pristine","k":"c","sp":"LiF","pk":"f","b":0.08,"x":55.57,"y":0.1644},{"s":"Pristine","k":"c","sp":"LiF","pk":"f","b":0.08,"x":55.78,"y":0.2377},{"s":"Pristine","k":"c","sp":"LiF","pk":"f","b":0.08,"x":55.99,"y":0.3095},{"s":"Pristine","k":"c","sp":"LiF","pk":"f","b":0.08,"x":56.2,"y":0.34},{"s":"Pristine","k":"c","sp":"LiF","pk":"f","b":0.08,"x":56.41,"y":0.3095},{"s":"Pristine","k":"c","sp":"LiF","pk":"f","b":0.08,"x":56.62,"y":0.2377},{"s":"Pristine","k":"c","sp":"LiF","pk":"f","b":0.08,"x":56.83,"y":0.1644},{"s":"Pristine","k":"c","sp":"LiF","pk":"f","b":0.08,"x":57.04,"y":0.1152},{"s":"Pristine","k":"c","sp":"LiF","pk":"f","b":0.08,"x":57.25,"y":0.0914},{"s":"Pristine","k":"c","sp":"LiF","pk":"f","b":0.08,"x":57.46,"y":0.0829},
{"s":"Coated","k":"e","x":61,"y":0.077},{"s":"Coated","k":"e","x":60.5,"y":0.096},{"s":"Coated","k":"e","x":60,"y":0.142},{"s":"Coated","k":"e","x":59.5,"y":0.227},{"s":"Coated","k":"e","x":59,"y":0.337},{"s":"Coated","k":"e","x":58.5,"y":0.424},{"s":"Coated","k":"e","x":58.19,"y":0.446},{"s":"Coated","k":"e","x":58,"y":0.4465},{"s":"Coated","k":"e","x":57.75,"y":0.441},{"s":"Coated","k":"e","x":57.5,"y":0.437},{"s":"Coated","k":"e","x":57.25,"y":0.449},{"s":"Coated","k":"e","x":57,"y":0.481},{"s":"Coated","k":"e","x":56.75,"y":0.524},{"s":"Coated","k":"e","x":56.5,"y":0.561},{"s":"Coated","k":"e","x":56.25,"y":0.564},{"s":"Coated","k":"e","x":56,"y":0.508},{"s":"Coated","k":"e","x":55.75,"y":0.41},{"s":"Coated","k":"e","x":55.5,"y":0.346},{"s":"Coated","k":"e","x":55.25,"y":0.347},{"s":"Coated","k":"e","x":55.1,"y":0.334},{"s":"Coated","k":"e","x":54.9,"y":0.26},{"s":"Coated","k":"e","x":54.75,"y":0.187},{"s":"Coated","k":"e","x":54.5,"y":0.1},{"s":"Coated","k":"e","x":54.25,"y":0.074},{"s":"Coated","k":"e","x":54,"y":0.07},{"s":"Coated","k":"e","x":53,"y":0.07},
{"s":"Pristine","k":"e","x":61,"y":0.08},{"s":"Pristine","k":"e","x":58,"y":0.08},{"s":"Pristine","k":"e","x":57.5,"y":0.086},{"s":"Pristine","k":"e","x":57.25,"y":0.105},{"s":"Pristine","k":"e","x":57,"y":0.163},{"s":"Pristine","k":"e","x":56.75,"y":0.292},{"s":"Pristine","k":"e","x":56.5,"y":0.496},{"s":"Pristine","k":"e","x":56.25,"y":0.715},{"s":"Pristine","k":"e","x":56,"y":0.861},{"s":"Pristine","k":"e","x":55.75,"y":0.889},{"s":"Pristine","k":"e","x":55.5,"y":0.8105},{"s":"Pristine","k":"e","x":55.25,"y":0.655},{"s":"Pristine","k":"e","x":55,"y":0.469},{"s":"Pristine","k":"e","x":54.75,"y":0.301},{"s":"Pristine","k":"e","x":54.5,"y":0.185},{"s":"Pristine","k":"e","x":54.25,"y":0.122},{"s":"Pristine","k":"e","x":54,"y":0.094},{"s":"Pristine","k":"e","x":53.5,"y":0.081},{"s":"Pristine","k":"e","x":53,"y":0.08},
{"s":"Coated","k":"p","x":60.9,"y":0.08},{"s":"Coated","k":"p","x":60.6,"y":0.1},{"s":"Coated","k":"p","x":60.3,"y":0.09},{"s":"Coated","k":"p","x":60,"y":0.14},{"s":"Coated","k":"p","x":59.7,"y":0.18},{"s":"Coated","k":"p","x":59.4,"y":0.24},{"s":"Coated","k":"p","x":59.1,"y":0.33},{"s":"Coated","k":"p","x":58.8,"y":0.38},{"s":"Coated","k":"p","x":58.5,"y":0.44},{"s":"Coated","k":"p","x":58.2,"y":0.47},{"s":"Coated","k":"p","x":57.9,"y":0.45},{"s":"Coated","k":"p","x":57.6,"y":0.44},{"s":"Coated","k":"p","x":57.3,"y":0.47},{"s":"Coated","k":"p","x":57,"y":0.5},{"s":"Coated","k":"p","x":56.8,"y":0.53},{"s":"Coated","k":"p","x":56.5,"y":0.54},{"s":"Coated","k":"p","x":56.2,"y":0.52},{"s":"Coated","k":"p","x":55.9,"y":0.46},{"s":"Coated","k":"p","x":55.6,"y":0.34},{"s":"Coated","k":"p","x":55.3,"y":0.33},{"s":"Coated","k":"p","x":55,"y":0.31},{"s":"Coated","k":"p","x":54.7,"y":0.17},{"s":"Coated","k":"p","x":54.4,"y":0.1},{"s":"Coated","k":"p","x":54.1,"y":0.08},{"s":"Coated","k":"p","x":53.8,"y":0.06},{"s":"Coated","k":"p","x":53.5,"y":0.08},{"s":"Coated","k":"p","x":53.2,"y":0.07},
{"s":"Pristine","k":"p","x":60.8,"y":0.08},{"s":"Pristine","k":"p","x":60.3,"y":0.07},{"s":"Pristine","k":"p","x":59.8,"y":0.09},{"s":"Pristine","k":"p","x":59.3,"y":0.08},{"s":"Pristine","k":"p","x":58.8,"y":0.07},{"s":"Pristine","k":"p","x":58.3,"y":0.09},{"s":"Pristine","k":"p","x":57.8,"y":0.08},{"s":"Pristine","k":"p","x":57.3,"y":0.11},{"s":"Pristine","k":"p","x":57,"y":0.17},{"s":"Pristine","k":"p","x":56.7,"y":0.3},{"s":"Pristine","k":"p","x":56.4,"y":0.58},{"s":"Pristine","k":"p","x":56.1,"y":0.78},{"s":"Pristine","k":"p","x":55.9,"y":0.92},{"s":"Pristine","k":"p","x":55.7,"y":0.9},{"s":"Pristine","k":"p","x":55.5,"y":0.86},{"s":"Pristine","k":"p","x":55.2,"y":0.64},{"s":"Pristine","k":"p","x":54.9,"y":0.4},{"s":"Pristine","k":"p","x":54.6,"y":0.23},{"s":"Pristine","k":"p","x":54.3,"y":0.14},{"s":"Pristine","k":"p","x":54,"y":0.11},{"s":"Pristine","k":"p","x":53.7,"y":0.1},{"s":"Pristine","k":"p","x":53.4,"y":0.09},{"s":"Pristine","k":"p","x":53.1,"y":0.08},
{"s":"Coated","k":"r","x":58.15,"y":0,"y2":0.58},{"s":"Coated","k":"r","x":56.38,"y":0,"y2":0.63},{"s":"Coated","k":"r","x":55.57,"y":0,"y2":0.59},{"s":"Coated","k":"r","x":55.08,"y":0,"y2":0.42},
{"s":"Pristine","k":"r","x":58.15,"y":0,"y2":1},{"s":"Pristine","k":"r","x":56.38,"y":0,"y2":1},{"s":"Pristine","k":"r","x":55.57,"y":0,"y2":1},{"s":"Pristine","k":"r","x":55.08,"y":0,"y2":1},
{"s":"Coated","k":"l","t":"LPS","x":58.15,"y":0.64},{"s":"Coated","k":"l","t":"LiF","x":56.38,"y":0.69},{"s":"Coated","k":"l","t":"Li₂CO₃","x":55.02,"y":0.78},{"s":"Coated","k":"l","t":"ROCOLi","x":54.93,"y":0.65},{"s":"Coated","k":"l","t":"Li₂S","x":54.66,"y":0.49},
{"s":"Coated","k":"n","t":"Coated","x":60.82,"y":0.92},{"s":"Pristine","k":"n","t":"Pristine","x":60.82,"y":0.9}
],
"s2p":[
{"k":"c","sp":"LPS","pk":"a","b":0.03,"x":161.4,"y":0.0373},{"k":"c","sp":"LPS","pk":"a","b":0.03,"x":161.65,"y":0.059},{"k":"c","sp":"LPS","pk":"a","b":0.03,"x":161.9,"y":0.1193},{"k":"c","sp":"LPS","pk":"a","b":0.03,"x":162.15,"y":0.2443},{"k":"c","sp":"LPS","pk":"a","b":0.03,"x":162.4,"y":0.4303},{"k":"c","sp":"LPS","pk":"a","b":0.03,"x":162.65,"y":0.6125},{"k":"c","sp":"LPS","pk":"a","b":0.03,"x":162.9,"y":0.69},{"k":"c","sp":"LPS","pk":"a","b":0.03,"x":163.15,"y":0.6125},{"k":"c","sp":"LPS","pk":"a","b":0.03,"x":163.4,"y":0.4303},{"k":"c","sp":"LPS","pk":"a","b":0.03,"x":163.65,"y":0.2443},{"k":"c","sp":"LPS","pk":"a","b":0.03,"x":163.9,"y":0.1193},{"k":"c","sp":"LPS","pk":"a","b":0.03,"x":164.15,"y":0.059},{"k":"c","sp":"LPS","pk":"a","b":0.03,"x":164.4,"y":0.0373},
{"k":"c","sp":"LPS","pk":"b","b":0.03,"x":162.8,"y":0.0337},{"k":"c","sp":"LPS","pk":"b","b":0.03,"x":163.025,"y":0.0445},{"k":"c","sp":"LPS","pk":"b","b":0.03,"x":163.25,"y":0.0747},{"k":"c","sp":"LPS","pk":"b","b":0.03,"x":163.475,"y":0.1372},{"k":"c","sp":"LPS","pk":"b","b":0.03,"x":163.7,"y":0.2301},{"k":"c","sp":"LPS","pk":"b","b":0.03,"x":163.925,"y":0.3212},{"k":"c","sp":"LPS","pk":"b","b":0.03,"x":164.15,"y":0.36},{"k":"c","sp":"LPS","pk":"b","b":0.03,"x":164.375,"y":0.3212},{"k":"c","sp":"LPS","pk":"b","b":0.03,"x":164.6,"y":0.2301},{"k":"c","sp":"LPS","pk":"b","b":0.03,"x":164.825,"y":0.1372},{"k":"c","sp":"LPS","pk":"b","b":0.03,"x":165.05,"y":0.0747},{"k":"c","sp":"LPS","pk":"b","b":0.03,"x":165.275,"y":0.0445},{"k":"c","sp":"LPS","pk":"b","b":0.03,"x":165.5,"y":0.0337},
{"k":"e","x":168.5,"y":0.03},{"k":"e","x":166,"y":0.03},{"k":"e","x":165.5,"y":0.034},{"k":"e","x":165.25,"y":0.047},{"k":"e","x":165,"y":0.085},{"k":"e","x":164.75,"y":0.166},{"k":"e","x":164.5,"y":0.278},{"k":"e","x":164.25,"y":0.369},{"k":"e","x":164,"y":0.401},{"k":"e","x":163.75,"y":0.408},{"k":"e","x":163.5,"y":0.468},{"k":"e","x":163.25,"y":0.591},{"k":"e","x":163,"y":0.689},{"k":"e","x":162.9,"y":0.697},{"k":"e","x":162.75,"y":0.664},{"k":"e","x":162.5,"y":0.509},{"k":"e","x":162.25,"y":0.314},{"k":"e","x":162,"y":0.161},{"k":"e","x":161.75,"y":0.077},{"k":"e","x":161.5,"y":0.043},{"k":"e","x":161,"y":0.03},{"k":"e","x":159,"y":0.03},
{"k":"p","x":168.2,"y":0.06},{"k":"p","x":167.9,"y":0.02},{"k":"p","x":167.6,"y":0.13},{"k":"p","x":167.3,"y":0.05},{"k":"p","x":167,"y":0.08},{"k":"p","x":166.7,"y":0.03},{"k":"p","x":166.4,"y":0.09},{"k":"p","x":166.1,"y":0.05},{"k":"p","x":165.8,"y":0.11},{"k":"p","x":165.5,"y":0.06},{"k":"p","x":165.2,"y":0.18},{"k":"p","x":164.9,"y":0.12},{"k":"p","x":164.6,"y":0.4},{"k":"p","x":164.4,"y":0.3},{"k":"p","x":164.1,"y":0.52},{"k":"p","x":163.9,"y":0.44},{"k":"p","x":163.6,"y":0.36},{"k":"p","x":163.4,"y":0.62},{"k":"p","x":163.2,"y":0.5},{"k":"p","x":163,"y":0.82},{"k":"p","x":162.8,"y":0.78},{"k":"p","x":162.6,"y":0.6},{"k":"p","x":162.3,"y":0.4},{"k":"p","x":162.1,"y":0.22},{"k":"p","x":161.8,"y":0.15},{"k":"p","x":161.5,"y":0.05},{"k":"p","x":161.2,"y":0.12},{"k":"p","x":160.9,"y":0.04},{"k":"p","x":160.6,"y":0.09},{"k":"p","x":160.3,"y":0.02},{"k":"p","x":160,"y":0.07},{"k":"p","x":159.7,"y":0.05},{"k":"p","x":159.3,"y":0.08},
{"k":"l","t":"LPS","x":164.36,"y":0.8},{"k":"n","t":"Coated","x":168.35,"y":0.89}
],
"li":[
{"st":"Pristine","sp":"ROCOLi","v":76,"i":1,"lab":"76%"},{"st":"Pristine","sp":"LiF","v":24,"i":2,"lab":"24%"},
{"st":"Coated","sp":"ROCOLi","v":18,"i":1,"lab":"18%"},{"st":"Coated","sp":"LiF","v":29,"i":2,"lab":"29%"},{"st":"Coated","sp":"LPS","v":44,"i":3,"lab":"44%"},{"st":"Coated","sp":"Li₂S","v":9,"i":4,"lab":"9%"}
],
"at":[
{"st":"Coated","el":"C","v":11.9,"i":1},{"st":"Coated","el":"F","v":17.3,"i":2},{"st":"Coated","el":"Li","v":49.6,"i":3},{"st":"Coated","el":"O","v":19.0,"i":4},{"st":"Coated","el":"P","v":1.2,"i":5},{"st":"Coated","el":"S","v":1.0,"i":6},
{"st":"Pristine","el":"C","v":19.0,"i":1},{"st":"Pristine","el":"F","v":26.2,"i":2},{"st":"Pristine","el":"Li","v":38.3,"i":3},{"st":"Pristine","el":"O","v":14.7,"i":4},{"st":"Pristine","el":"P","v":1.8,"i":5}
]
},
"resolve":{"scale":{"color":"independent","fill":"independent","stroke":"independent"},"legend":{"color":"independent","fill":"independent","stroke":"independent"}},
"spacing":0,
"vconcat":[
{"spacing":8,
 "resolve":{"scale":{"color":"independent","fill":"independent","stroke":"independent"},"legend":{"color":"independent","fill":"independent","stroke":"independent"}},
 "hconcat":[
 {"spacing":8,
  "resolve":{"scale":{"color":"independent","fill":"independent","stroke":"independent"},"legend":{"color":"independent","fill":"independent","stroke":"independent"}},
  "hconcat":[
 {"title":{"text":"P 2p","frame":"bounds"},
  "data":{"name":"p2p"},
  "facet":{"row":{"field":"s","type":"nominal","sort":["Coated","Pristine"],"title":"Intensity (a.u.)","header":{"labels":false}}},
  "spacing":{"row":0},
  "spec":{"width":146,"height":94,
   "encoding":{"x":{"field":"x","type":"quantitative","scale":{"domain":[129.6,140],"reverse":true,"nice":false,"zero":false},"axis":{"values":[130,132,134,136,138,140],"title":"Binding Energy (eV)","tickSize":-3,"labelPadding":0,"titlePadding":1,"domain":false}}},
   "layer":[
    {"transform":[{"filter":"datum.k==='c'"}],"mark":{"type":"area","interpolate":"monotone","fillOpacity":0.7,"clip":true},"encoding":{"y":{"field":"y","type":"quantitative","scale":{"domain":[0,1]},"axis":null,"stack":null},"y2":{"field":"b"},"fill":{"field":"sp","type":"nominal","legend":null,"scale":{"domain":["LixPFy","LPS","LixPOyFz","C-O","SOx","ROLi","Lattice O","LiF","ROCOLi","Li2S"],"range":["#b7a2d6","#f4a0a6","#b6dc98","#a9d0f0","#f7b37c","#f2a3c9","#a9a9a9","#b6dc98","#f2aacd","#f7b37c"]}},"detail":{"field":"pk"}}},
    {"transform":[{"filter":"datum.k==='c'"}],"mark":{"type":"line","interpolate":"monotone","strokeWidth":1,"clip":true},"encoding":{"y":{"field":"y","type":"quantitative"},"stroke":{"field":"sp","type":"nominal","legend":null,"scale":{"domain":["LixPFy","LPS","LixPOyFz","C-O","SOx","ROLi","Lattice O","LiF","ROCOLi","Li2S"],"range":["#8c6cba","#e0707c","#6cb447","#6cb447","#eb8a4a","#e0609a","#808080","#6cb447","#e070a5","#eb8a4a"]}},"detail":{"field":"pk"}}},
    {"transform":[{"filter":"datum.k==='r'"}],"mark":{"type":"rule","strokeDash":[3,2],"color":"#555","strokeWidth":0.9},"encoding":{"y":{"field":"y","type":"quantitative"},"y2":{"field":"y2"}}},
    {"transform":[{"filter":"datum.k==='e'"}],"mark":{"type":"line","interpolate":"monotone","color":"#111","strokeWidth":1.8,"clip":true},"encoding":{"y":{"field":"y","type":"quantitative"}}},
    {"transform":[{"filter":"datum.k==='p'"}],"mark":{"type":"circle","size":4,"color":"#222","opacity":1,"clip":true},"encoding":{"y":{"field":"y","type":"quantitative"}}},
    {"transform":[{"filter":"datum.k==='l'"}],"mark":{"type":"text","fontSize":9,"align":"center","baseline":"middle","color":"#222"},"encoding":{"y":{"field":"y","type":"quantitative"},"text":{"field":"t"}}},
    {"transform":[{"filter":"datum.k==='g'"}],"mark":{"type":"text","fontSize":9,"align":"left","baseline":"middle","color":"#222"},"encoding":{"y":{"field":"y","type":"quantitative"},"text":{"field":"t"}}},
    {"transform":[{"filter":"datum.k==='u'"}],"mark":{"type":"text","fontSize":6.5,"align":"left","baseline":"middle","dy":3,"color":"#222"},"encoding":{"y":{"field":"y","type":"quantitative"},"text":{"field":"t"}}},
    {"transform":[{"filter":"datum.k==='n'"}],"mark":{"type":"text","fontSize":12,"align":"left","baseline":"middle","color":"#111"},"encoding":{"y":{"field":"y","type":"quantitative"},"text":{"field":"t"}}}
   ]}
 },
 {"title":{"text":"O 1s","frame":"bounds"},
  "data":{"name":"o1s"},
  "facet":{"row":{"field":"s","type":"nominal","sort":["Coated","Pristine"],"title":null,"header":{"labels":false}}},
  "spacing":{"row":0},
  "spec":{"width":147,"height":94,
   "encoding":{"x":{"field":"x","type":"quantitative","scale":{"domain":[526,537],"reverse":true,"nice":false,"zero":false},"axis":{"values":[526,528,530,532,534,536],"title":"Binding Energy (eV)","tickSize":-3,"labelPadding":0,"titlePadding":1,"domain":false}}},
   "layer":[
    {"transform":[{"filter":"datum.k==='c'"}],"mark":{"type":"area","interpolate":"monotone","fillOpacity":0.7,"clip":true},"encoding":{"y":{"field":"y","type":"quantitative","scale":{"domain":[0,1]},"axis":null,"stack":null},"y2":{"field":"b"},"fill":{"field":"sp","type":"nominal","legend":null,"scale":{"domain":["LixPFy","LPS","LixPOyFz","C-O","SOx","ROLi","Lattice O","LiF","ROCOLi","Li2S"],"range":["#b7a2d6","#f4a0a6","#b6dc98","#a9d0f0","#f7b37c","#f2a3c9","#a9a9a9","#b6dc98","#f2aacd","#f7b37c"]}},"detail":{"field":"pk"}}},
    {"transform":[{"filter":"datum.k==='c'"}],"mark":{"type":"line","interpolate":"monotone","strokeWidth":1,"clip":true},"encoding":{"y":{"field":"y","type":"quantitative"},"stroke":{"field":"sp","type":"nominal","legend":null,"scale":{"domain":["LixPFy","LPS","LixPOyFz","C-O","SOx","ROLi","Lattice O","LiF","ROCOLi","Li2S"],"range":["#8c6cba","#e0707c","#6cb447","#6cb447","#eb8a4a","#e0609a","#808080","#6cb447","#e070a5","#eb8a4a"]}},"detail":{"field":"pk"}}},
    {"transform":[{"filter":"datum.k==='r'"}],"mark":{"type":"rule","strokeDash":[3,2],"color":"#555","strokeWidth":0.9},"encoding":{"y":{"field":"y","type":"quantitative"},"y2":{"field":"y2"}}},
    {"transform":[{"filter":"datum.k==='e'"}],"mark":{"type":"line","interpolate":"monotone","color":"#111","strokeWidth":1.8,"clip":true},"encoding":{"y":{"field":"y","type":"quantitative"}}},
    {"transform":[{"filter":"datum.k==='p'"}],"mark":{"type":"circle","size":4,"color":"#222","opacity":1,"clip":true},"encoding":{"y":{"field":"y","type":"quantitative"}}},
    {"transform":[{"filter":"datum.k==='l'"}],"mark":{"type":"text","fontSize":9,"align":"center","baseline":"middle","color":"#222"},"encoding":{"y":{"field":"y","type":"quantitative"},"text":{"field":"t"}}},
    {"transform":[{"filter":"datum.k==='g'"}],"mark":{"type":"text","fontSize":9,"align":"left","baseline":"middle","color":"#222"},"encoding":{"y":{"field":"y","type":"quantitative"},"text":{"field":"t"}}},
    {"transform":[{"filter":"datum.k==='u'"}],"mark":{"type":"text","fontSize":6.5,"align":"left","baseline":"middle","dy":3,"color":"#222"},"encoding":{"y":{"field":"y","type":"quantitative"},"text":{"field":"t"}}},
    {"transform":[{"filter":"datum.k==='n'"}],"mark":{"type":"text","fontSize":12,"align":"left","baseline":"middle","color":"#111"},"encoding":{"y":{"field":"y","type":"quantitative"},"text":{"field":"t"}}}
   ]}
 }
 ]},
 {"spacing":6,
  "resolve":{"scale":{"color":"independent","fill":"independent","stroke":"independent"},"legend":{"color":"independent","fill":"independent","stroke":"independent"}},
  "hconcat":[
 {"title":{"text":"Li 1s","frame":"bounds"},
  "data":{"name":"li1s"},
  "facet":{"row":{"field":"s","type":"nominal","sort":["Coated","Pristine"],"title":null,"header":{"labels":false}}},
  "spacing":{"row":0},
  "spec":{"width":147,"height":94,
   "encoding":{"x":{"field":"x","type":"quantitative","scale":{"domain":[53,61],"reverse":true,"nice":false,"zero":false},"axis":{"values":[54,56,58,60],"title":"Binding Energy (eV)","tickSize":-3,"labelPadding":0,"titlePadding":1,"domain":false}}},
   "layer":[
    {"transform":[{"filter":"datum.k==='c'"}],"mark":{"type":"area","interpolate":"monotone","fillOpacity":0.7,"clip":true},"encoding":{"y":{"field":"y","type":"quantitative","scale":{"domain":[0,1]},"axis":null,"stack":null},"y2":{"field":"b"},"fill":{"field":"sp","type":"nominal","legend":null,"scale":{"domain":["LixPFy","LPS","LixPOyFz","C-O","SOx","ROLi","Lattice O","LiF","ROCOLi","Li2S"],"range":["#b7a2d6","#f4999c","#b6dc98","#a9d0f0","#f7b37c","#f2a3c9","#a9a9a9","#b6dc98","#f2aacd","#f7b37c"]}},"detail":{"field":"pk"}}},
    {"transform":[{"filter":"datum.k==='c'"}],"mark":{"type":"line","interpolate":"monotone","strokeWidth":1,"clip":true},"encoding":{"y":{"field":"y","type":"quantitative"},"stroke":{"field":"sp","type":"nominal","legend":null,"scale":{"domain":["LixPFy","LPS","LixPOyFz","C-O","SOx","ROLi","Lattice O","LiF","ROCOLi","Li2S"],"range":["#8c6cba","#e0707c","#6cb447","#6cb447","#eb8a4a","#e0609a","#808080","#6cb447","#e070a5","#eb8a4a"]}},"detail":{"field":"pk"}}},
    {"transform":[{"filter":"datum.k==='r'"}],"mark":{"type":"rule","strokeDash":[3,2],"color":"#555","strokeWidth":0.9},"encoding":{"y":{"field":"y","type":"quantitative"},"y2":{"field":"y2"}}},
    {"transform":[{"filter":"datum.k==='e'"}],"mark":{"type":"line","interpolate":"monotone","color":"#111","strokeWidth":1.8,"clip":true},"encoding":{"y":{"field":"y","type":"quantitative"}}},
    {"transform":[{"filter":"datum.k==='p'"}],"mark":{"type":"circle","size":4,"color":"#222","opacity":1,"clip":true},"encoding":{"y":{"field":"y","type":"quantitative"}}},
    {"transform":[{"filter":"datum.k==='l'"}],"mark":{"type":"text","fontSize":9,"align":"center","baseline":"middle","color":"#222"},"encoding":{"y":{"field":"y","type":"quantitative"},"text":{"field":"t"}}},
    {"transform":[{"filter":"datum.k==='n'"}],"mark":{"type":"text","fontSize":12,"align":"left","baseline":"middle","color":"#111"},"encoding":{"y":{"field":"y","type":"quantitative"},"text":{"field":"t"}}}
   ]}
 },
 {"title":{"text":" "},
  "data":{"name":"li"},
  "width":133,"height":190,
  "encoding":{"x":{"field":"st","type":"nominal","sort":["Pristine","Coated"],"scale":{"paddingInner":0.55,"paddingOuter":0.275},"axis":{"title":null,"labelAngle":0,"labelFontSize":13,"tickSize":3,"domain":false}}},
  "layer":[
   {"mark":{"type":"bar","stroke":"#999","strokeWidth":0.8},"encoding":{"y":{"field":"v","type":"quantitative","stack":"zero","scale":{"domain":[0,100]},"axis":{"title":"Li1s Peak Area Ratio (%)","values":[0,20,40,60,80,100],"tickSize":3,"labelPadding":1,"titlePadding":0,"labelFontSize":11,"titleFontSize":12,"domain":false}},"color":{"field":"sp","type":"nominal","legend":null,"scale":{"domain":["ROCOLi","LiF","LPS","Li₂S"],"range":["#f5c6d9","#d5eac2","#ee9d9d","#fad5a8"]}},"order":{"field":"i"}}},
   {"transform":[{"stack":"v","groupby":["st"],"sort":[{"field":"i","order":"ascending"}],"as":["y0","y1"]},{"fold":["y0","y1"]},{"aggregate":[{"op":"mean","field":"value","as":"m"}],"groupby":["st","sp","lab"]}],
    "mark":{"type":"text","fontSize":11,"color":"#222","baseline":"middle"},"encoding":{"y":{"field":"m","type":"quantitative","axis":{"title":"Li1s Peak Area Ratio (%)","values":[0,20,40,60,80,100],"tickSize":3,"labelPadding":1,"titlePadding":0,"labelFontSize":11,"titleFontSize":12,"domain":false}},"text":{"field":"lab"}}},
   {"transform":[{"filter":"datum.st==='Coated'"},{"stack":"v","groupby":["st"],"sort":[{"field":"i","order":"ascending"}],"as":["y0","y1"]},{"fold":["y0","y1"]},{"aggregate":[{"op":"mean","field":"value","as":"m"}],"groupby":["st","sp"]}],
    "mark":{"type":"text","fontSize":10,"baseline":"middle","dx":-34},"encoding":{"y":{"field":"m","type":"quantitative","axis":{"title":"Li1s Peak Area Ratio (%)","values":[0,20,40,60,80,100],"tickSize":3,"labelPadding":1,"titlePadding":0,"labelFontSize":11,"titleFontSize":12,"domain":false}},"text":{"field":"sp"},"fill":{"field":"sp","type":"nominal","legend":null,"scale":{"domain":["ROCOLi","LiF","LPS","Li₂S"],"range":["#d9507e","#8cc25e","#d94f5c","#f29a4a"]}}}}
  ]
 }
 ]}
 ]},
{"spacing":29,
 "resolve":{"scale":{"color":"independent","fill":"independent","stroke":"independent"},"legend":{"color":"independent","fill":"independent","stroke":"independent"}},
 "hconcat":[
 {"title":{"text":"S 2p","frame":"group"},
  "data":{"name":"s2p"},
  "width":147,"height":91,
  "encoding":{"x":{"field":"x","type":"quantitative","scale":{"domain":[159,168.5],"reverse":true,"nice":false,"zero":false},"axis":{"values":[160,162,164,166,168],"title":"Binding Energy (eV)","tickSize":-3,"labelPadding":0,"titlePadding":1,"domain":false}}},
  "layer":[
   {"transform":[{"filter":"datum.k==='c'"}],"mark":{"type":"area","interpolate":"monotone","fillOpacity":0.7,"clip":true},"encoding":{"y":{"field":"y","type":"quantitative","scale":{"domain":[0,1]},"axis":{"title":"Intensity (a.u.)","labels":false,"ticks":false,"tickSize":0,"labelPadding":0,"minExtent":0,"domain":false,"titlePadding":4},"stack":null},"y2":{"field":"b"},"fill":{"value":"#f4999c"},"detail":{"field":"pk"}}},
   {"transform":[{"filter":"datum.k==='c'"}],"mark":{"type":"line","interpolate":"monotone","strokeWidth":1,"clip":true,"color":"#e0707c"},"encoding":{"y":{"field":"y","type":"quantitative"},"detail":{"field":"pk"}}},
   {"transform":[{"filter":"datum.k==='e'"}],"mark":{"type":"line","interpolate":"monotone","color":"#111","strokeWidth":1.8,"clip":true},"encoding":{"y":{"field":"y","type":"quantitative"}}},
   {"transform":[{"filter":"datum.k==='p'"}],"mark":{"type":"circle","size":4,"color":"#222","opacity":1,"clip":true},"encoding":{"y":{"field":"y","type":"quantitative"}}},
   {"transform":[{"filter":"datum.k==='l'"}],"mark":{"type":"text","fontSize":9,"align":"center","baseline":"middle","color":"#222"},"encoding":{"y":{"field":"y","type":"quantitative"},"text":{"field":"t"}}},
   {"transform":[{"filter":"datum.k==='n'"}],"mark":{"type":"text","fontSize":12,"align":"left","baseline":"middle","color":"#111"},"encoding":{"y":{"field":"y","type":"quantitative"},"text":{"field":"t"}}}
  ]
 },
 {"title":{"text":" "},
  "data":{"name":"at"},
  "width":375,"height":94,
  "mark":{"type":"bar","stroke":"#555","strokeWidth":0.7},
  "encoding":{
   "y":{"field":"st","type":"nominal","sort":["Coated","Pristine"],"scale":{"paddingInner":0.34,"paddingOuter":0.17},"axis":{"title":null,"labelFontSize":13,"ticks":false,"labelPadding":5,"domain":false}},
   "x":{"field":"v","type":"quantitative","stack":"zero","scale":{"domain":[0,100],"nice":false},"axis":{"title":"Atomic Concentration (%)","values":[0,20,40,60,80,100],"tickSize":-3,"labelPadding":0,"titlePadding":1,"domain":false}},
   "color":{"field":"el","type":"nominal","scale":{"domain":["S","P","O","Li","F","C"],"range":["#f6a8a8","#d3ecbf","#c2def0","#fcd6a6","#ddd0ea","#fefeb8"]},"legend":{"title":null,"symbolType":"square","symbolSize":130,"symbolStrokeColor":"#777","symbolStrokeWidth":1,"symbolOpacity":1,"labelFontSize":12,"rowPadding":2,"offset":6,"padding":0}},
   "order":{"field":"i"}
  }
 }
 ]}
]
}
